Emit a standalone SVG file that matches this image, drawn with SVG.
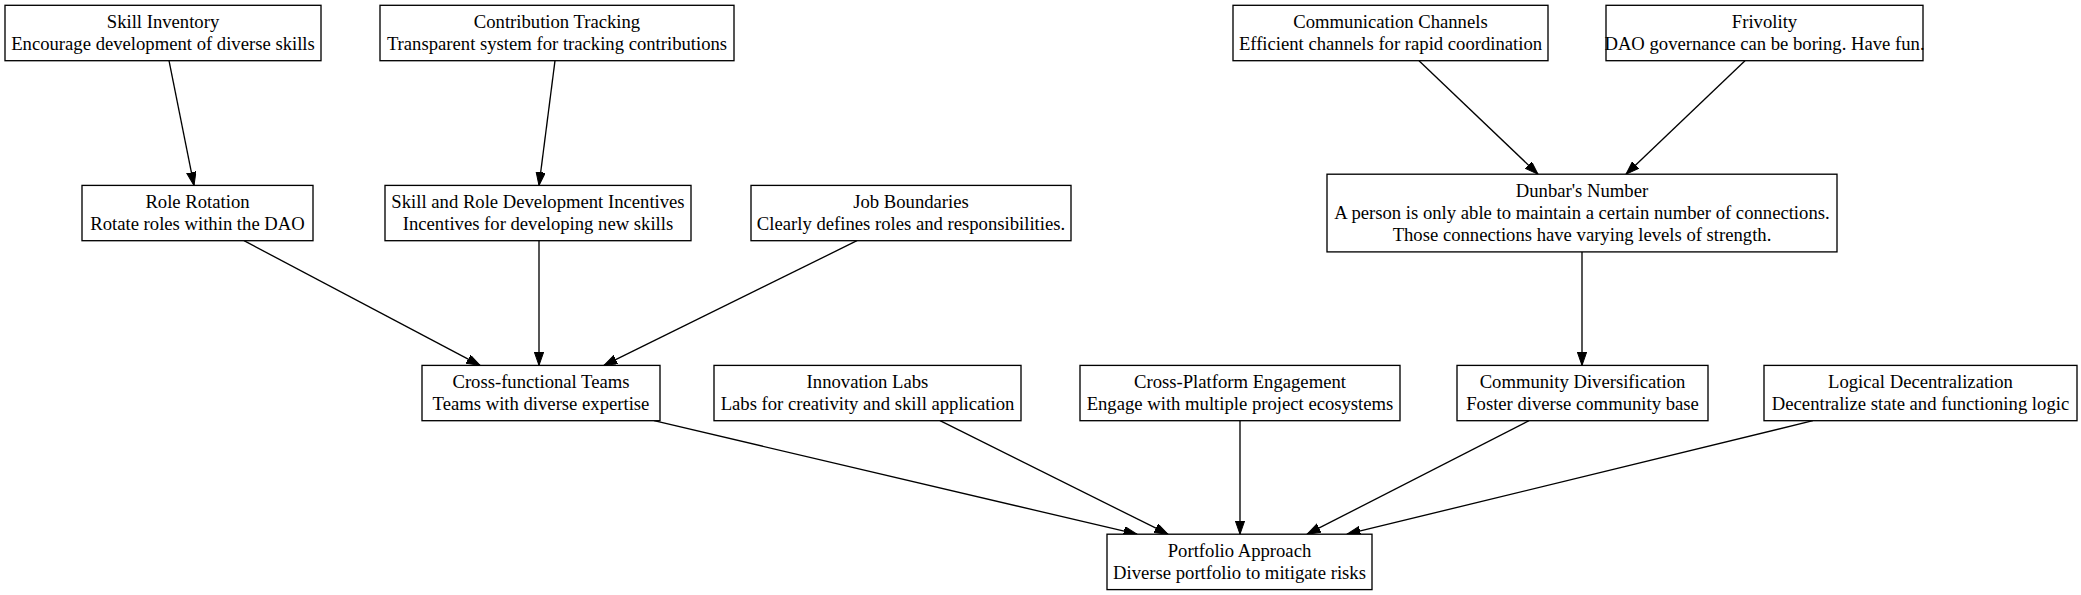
<svg xmlns="http://www.w3.org/2000/svg" width="2081" height="595" viewBox="0 0 2081 595">
<style>
.n rect{fill:#fff;stroke:#000;stroke-width:1.33}
.n text{font-family:"Liberation Serif","Times New Roman",serif;font-size:18.67px;fill:#000;text-anchor:middle}
.e path{fill:none;stroke:#000;stroke-width:1.33}
</style>
<defs>
<marker id="ah" markerUnits="userSpaceOnUse" markerWidth="14" markerHeight="10" refX="13.33" refY="4.67" orient="auto" viewBox="0 0 14 10">
<path d="M0,0 L13.33,4.67 L0,9.33 z" fill="#000" stroke="#000" stroke-width="1"/>
</marker>
</defs>
<rect width="2081" height="595" fill="#fff"/>
<g id="connectors" class="e">
<path d="M169,60.7 L194,185.4" marker-end="url(#ah)"/>
<path d="M555,60.7 L539,185.4" marker-end="url(#ah)"/>
<path d="M1419,60.7 L1538,174.2" marker-end="url(#ah)"/>
<path d="M1745,60.7 L1626,174.2" marker-end="url(#ah)"/>
<path d="M244,240.7 L480,365.4" marker-end="url(#ah)"/>
<path d="M539,240.7 L539,365.4" marker-end="url(#ah)"/>
<path d="M857,240.7 L604,365.4" marker-end="url(#ah)"/>
<path d="M1582,251.9 L1582,365.4" marker-end="url(#ah)"/>
<path d="M654,420.7 L1137,534.2" marker-end="url(#ah)"/>
<path d="M940,420.7 L1168,534.2" marker-end="url(#ah)"/>
<path d="M1240,420.7 L1240,534.2" marker-end="url(#ah)"/>
<path d="M1529,420.7 L1307,534.2" marker-end="url(#ah)"/>
<path d="M1813,420.7 L1347,534.2" marker-end="url(#ah)"/>
</g>
<g id="skill_inventory" class="n"><rect x="5" y="5.3" width="316" height="55.4"/><text x="163" y="27.8">Skill Inventory</text><text x="163" y="50.2">Encourage development of diverse skills</text></g>
<g id="contribution_tracking" class="n"><rect x="380" y="5.3" width="354" height="55.4"/><text x="557" y="27.8">Contribution Tracking</text><text x="557" y="50.2">Transparent system for tracking contributions</text></g>
<g id="communication_channels" class="n"><rect x="1233" y="5.3" width="315" height="55.4"/><text x="1390.5" y="27.8">Communication Channels</text><text x="1390.5" y="50.2">Efficient channels for rapid coordination</text></g>
<g id="frivolity" class="n"><rect x="1606" y="5.3" width="317" height="55.4"/><text x="1764.5" y="27.8">Frivolity</text><text x="1764.5" y="50.2">DAO governance can be boring. Have fun.</text></g>
<g id="role_rotation" class="n"><rect x="82" y="185.4" width="231" height="55.3"/><text x="197.5" y="207.9">Role Rotation</text><text x="197.5" y="230.3">Rotate roles within the DAO</text></g>
<g id="skill_role_incentives" class="n"><rect x="385" y="185.4" width="306" height="55.3"/><text x="538" y="207.9">Skill and Role Development Incentives</text><text x="538" y="230.3">Incentives for developing new skills</text></g>
<g id="job_boundaries" class="n"><rect x="751" y="185.4" width="320" height="55.3"/><text x="911" y="207.9">Job Boundaries</text><text x="911" y="230.3">Clearly defines roles and responsibilities.</text></g>
<g id="dunbars_number" class="n"><rect x="1327" y="174.2" width="510" height="77.7"/><text x="1582" y="196.6">Dunbar's Number</text><text x="1582" y="219">A person is only able to maintain a certain number of connections.</text><text x="1582" y="241.4">Those connections have varying levels of strength.</text></g>
<g id="cross_functional_teams" class="n"><rect x="422" y="365.4" width="238" height="55.3"/><text x="541" y="387.9">Cross-functional Teams</text><text x="541" y="410.3">Teams with diverse expertise</text></g>
<g id="innovation_labs" class="n"><rect x="714" y="365.4" width="307" height="55.3"/><text x="867.5" y="387.9">Innovation Labs</text><text x="867.5" y="410.3">Labs for creativity and skill application</text></g>
<g id="cross_platform_engagement" class="n"><rect x="1080" y="365.4" width="320" height="55.3"/><text x="1240" y="387.9">Cross-Platform Engagement</text><text x="1240" y="410.3">Engage with multiple project ecosystems</text></g>
<g id="community_diversification" class="n"><rect x="1457" y="365.4" width="251" height="55.3"/><text x="1582.5" y="387.9">Community Diversification</text><text x="1582.5" y="410.3">Foster diverse community base</text></g>
<g id="logical_decentralization" class="n"><rect x="1764" y="365.4" width="313" height="55.3"/><text x="1920.5" y="387.9">Logical Decentralization</text><text x="1920.5" y="410.3">Decentralize state and functioning logic</text></g>
<g id="portfolio_approach" class="n"><rect x="1107" y="534.2" width="265" height="55.4"/><text x="1239.5" y="556.7">Portfolio Approach</text><text x="1239.5" y="579.1">Diverse portfolio to mitigate risks</text></g>
</svg>
